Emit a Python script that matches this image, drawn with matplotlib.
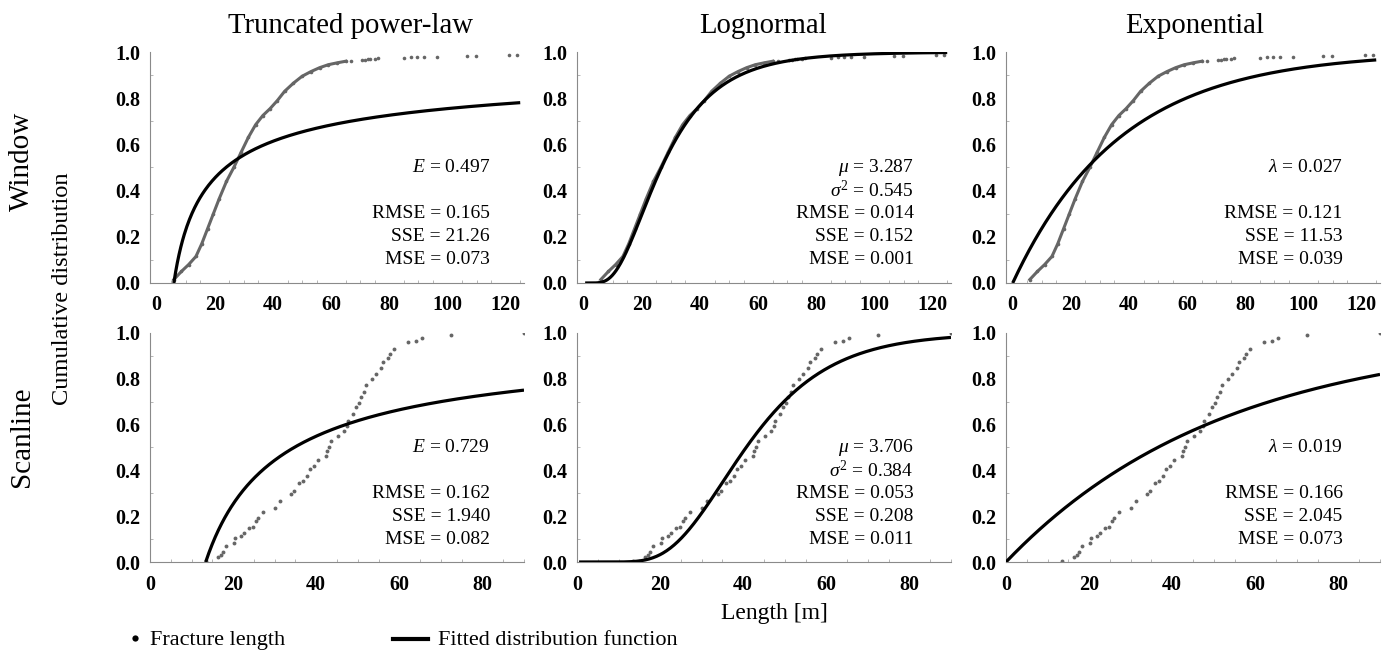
import math
import numpy as np
import matplotlib
matplotlib.use('Agg')
import matplotlib.pyplot as plt
from matplotlib.lines import Line2D
from matplotlib.ticker import MultipleLocator

plt.rcParams['font.family'] = ['Liberation Serif', 'DejaVu Serif']
plt.rcParams['mathtext.fontset'] = 'custom'
plt.rcParams['mathtext.rm'] = 'Liberation Serif'
plt.rcParams['mathtext.it'] = 'Liberation Serif:italic'

# --- data ---
col_titles = ['Truncated power-law', 'Lognormal', 'Exponential']
row_titles = ['Window', 'Scanline']

# window survey: empirical CDF (dense part read as a curve, then the sparse tail)
win_x = [5.9, 8.5, 11.0, 13.5, 15.5, 17.5, 19.5, 21.5, 24.0, 26.5, 29.0, 31.5,
         34.0, 36.5, 39.0, 41.5, 44.0, 47.0, 50.0, 53.0, 56.0, 59.0, 62.0, 65.0]
win_y = [0.015, 0.05, 0.08, 0.115, 0.17, 0.235, 0.30, 0.365, 0.44, 0.50, 0.565, 0.63,
         0.685, 0.725, 0.755, 0.79, 0.83, 0.865, 0.895, 0.915, 0.932, 0.945, 0.953, 0.96]
win_tail_x = [66.7, 70.5, 71.5, 72.5, 73.5, 75.0, 76.0, 85.0, 87.3, 89.6, 91.9,
              96.5, 106.8, 109.7, 121.2, 124.0]
win_tail_y = [0.963, 0.966, 0.967, 0.968, 0.969, 0.971, 0.972, 0.976, 0.977, 0.978,
              0.979, 0.98, 0.982, 0.983, 0.986, 0.987]

# scanline survey: empirical CDF points
scan_x = [13.4, 16.4, 17.2, 17.6, 18.2, 20.1, 20.4, 22.0, 22.6, 23.8, 24.8, 25.4,
          26.0, 27.3, 30.2, 31.4, 33.9, 34.6, 35.9, 36.7, 37.9, 38.5, 39.5, 40.4,
          42.3, 42.7, 43.1, 43.5, 45.3, 46.7, 47.3, 47.6, 48.9, 49.5, 50.3, 50.8,
          51.5, 51.9, 53.5, 54.3, 55.5, 56.1, 57.3, 57.7, 58.7, 62.1, 63.9, 65.5,
          72.5, 90.0]
scan_y = [0.005, 0.021, 0.029, 0.045, 0.069, 0.083, 0.103, 0.113, 0.127, 0.147, 0.152, 0.179,
          0.19, 0.22, 0.234, 0.267, 0.296, 0.31, 0.347, 0.354, 0.376, 0.405, 0.42, 0.445,
          0.464, 0.486, 0.504, 0.53, 0.552, 0.571, 0.596, 0.615, 0.647, 0.676, 0.696, 0.72,
          0.742, 0.775, 0.8, 0.819, 0.845, 0.874, 0.892, 0.91, 0.932, 0.959, 0.966, 0.976,
          0.99, 1.0]

# fitted parameters (window, scanline)
pl_E = [0.497, 0.729]
pl_xmin = [5.9, 13.4]
ln_mu = [3.287, 3.706]
ln_s2 = [0.545, 0.384]   # drawn curves match this value used as the log-std
exp_lam = [0.027, 0.019]

rmse_txt = [['0.165', '0.014', '0.121'], ['0.162', '0.053', '0.166']]
sse_txt = [['21.26', '0.152', '11.53'], ['1.940', '0.208', '2.045']]
mse_txt = [['0.073', '0.001', '0.039'], ['0.082', '0.011', '0.073']]

x_max = [125, 90]
x_lim = [(-2.3, 126.3), (0, 90)]
x_ticks = [[0, 20, 40, 60, 80, 100, 120], [0, 20, 40, 60, 80]]


def cdf_powerlaw(x, E, xmin):
    return 1 - (x / xmin) ** (-E)


def cdf_lognormal(x, mu, s):
    return np.array([0.5 * (1 + math.erf((math.log(v) - mu) / (s * math.sqrt(2)))) for v in x])


def cdf_exponential(x, lam):
    return 1 - np.exp(-lam * x)


W, H = 1385, 651
fig = plt.figure(figsize=(W / 100, H / 100), dpi=100)

lefts = [150, 577, 1006]
ax_w = 374
bottoms = [283, 562]
ax_h = [231, 229]

DOT = '#666666'
spine_c = '#8a8a8a'

for r in range(2):
    if r == 0:
        ex, ey = win_x, win_y
    else:
        ex, ey = scan_x, scan_y
    for c in range(3):
        ax = fig.add_axes([lefts[c] / W, 1 - bottoms[r] / H, ax_w / W, ax_h[r] / H])

        # empirical data
        if r == 0:
            ax.plot(ex, ey, '-', color=DOT, lw=2.2, zorder=2)
            ax.plot(ex, ey, 'o', color=DOT, ms=2.6, mew=0, zorder=2)
            ax.plot(win_tail_x, win_tail_y, 'o', color=DOT, ms=2.6, mew=0, zorder=2)
        else:
            ax.plot(ex, ey, 'o', color=DOT, ms=2.8, mew=0, zorder=2)

        # fitted distribution
        if c == 0:
            xx = np.linspace(pl_xmin[r], x_max[r], 400)
            yy = cdf_powerlaw(xx, pl_E[r], pl_xmin[r])
            lines = [r'$E$ = %.3f' % pl_E[r], '']
        elif c == 1:
            xx = np.linspace(0.5, x_max[r], 400)
            yy = cdf_lognormal(xx, ln_mu[r], ln_s2[r])
            lines = [r'$\mu$ = %.3f' % ln_mu[r], r'$\sigma^2$ = %.3f' % ln_s2[r]]
        else:
            xx = np.linspace(0, x_max[r], 400)
            yy = cdf_exponential(xx, exp_lam[r])
            lines = [r'$\lambda$ = %.3f' % exp_lam[r], '']
        ax.plot(xx, yy, '-', color='black', lw=2.3, zorder=3, solid_capstyle='butt')

        lines += ['RMSE = ' + rmse_txt[r][c], 'SSE = ' + sse_txt[r][c], 'MSE = ' + mse_txt[r][c]]
        xr = 0.909 if c == 0 else 0.9
        for i, t in enumerate(lines):
            if t:
                ax.text(xr, 0.5 - 0.1 * i, t, transform=ax.transAxes, ha='right',
                        va='center', fontsize=14)

        ax.set_xlim(*x_lim[r])
        ax.set_ylim(0, 1.0)
        ax.set_xticks(x_ticks[r])
        ax.set_yticks([0, 0.2, 0.4, 0.6, 0.8, 1.0])
        ax.set_yticklabels(['0.0', '0.2', '0.4', '0.6', '0.8', '1.0'])
        ax.xaxis.set_minor_locator(MultipleLocator(5))
        ax.yaxis.set_minor_locator(MultipleLocator(0.1))
        ax.tick_params(which='major', length=0, labelsize=14.5, pad=7)
        ax.tick_params(axis='x', which='major', pad=9)
        ax.tick_params(which='minor', length=2.5, width=0.6, color='#aaaaaa', direction='in')
        for lab in ax.get_xticklabels() + ax.get_yticklabels():
            lab.set_fontweight('bold')
        for s in ['top', 'right']:
            ax.spines[s].set_visible(False)
        for s in ['left', 'bottom']:
            ax.spines[s].set_color(spine_c)
            ax.spines[s].set_linewidth(0.8)

# column titles
for t, xc in zip(col_titles, [350, 763, 1195]):
    fig.text(xc / W, 1 - 33 / H, t, ha='center', va='baseline', fontsize=20.7)

# row titles and shared labels
fig.text(22 / W, 1 - 161 / H, row_titles[0], rotation=90, ha='center', va='center', fontsize=21)
fig.text(22 / W, 1 - 437 / H, row_titles[1], rotation=90, ha='center', va='center', fontsize=21)
fig.text(63 / W, 1 - 289 / H, 'Cumulative distribution', rotation=90, ha='center',
         va='center', fontsize=17.6)
fig.text(774 / W, 1 - 614 / H, 'Length [m]', ha='center', va='center', fontsize=17)

# legend
fig.add_artist(Line2D([135 / W], [1 - 638 / H], marker='o', color='black', ms=4.5,
                      mew=0, ls='none', transform=fig.transFigure))
fig.text(150 / W, 1 - 645 / H, 'Fracture length', ha='left', va='baseline', fontsize=16)
fig.add_artist(Line2D([393 / W, 428 / W], [1 - 639 / H, 1 - 639 / H], color='black',
                      lw=3, transform=fig.transFigure))
fig.text(438 / W, 1 - 645 / H, 'Fitted distribution function', ha='left', va='baseline',
         fontsize=16)

fig.savefig('out.png', dpi=100)
